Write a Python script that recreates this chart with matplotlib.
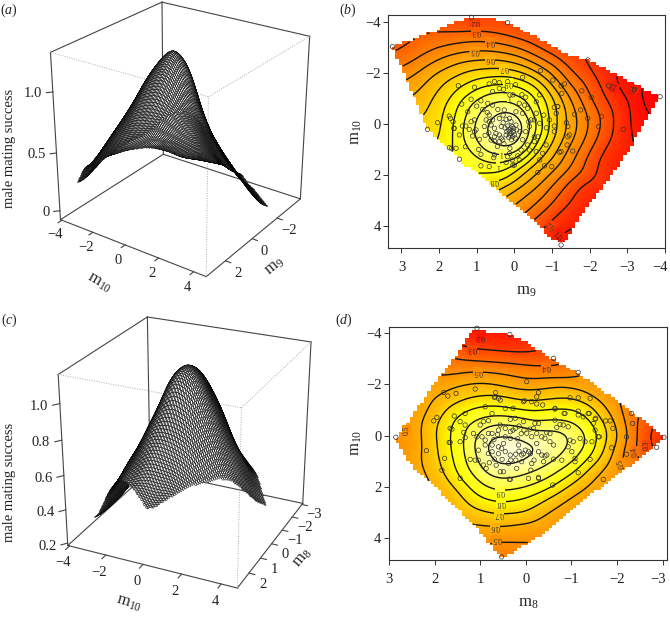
import numpy as np
import matplotlib
matplotlib.use("Agg")
import matplotlib.pyplot as plt
from matplotlib.colors import LinearSegmentedColormap, Normalize
from matplotlib.path import Path
from matplotlib.transforms import ScaledTranslation
from matplotlib.tri import Triangulation, LinearTriInterpolator
from mpl_toolkits.mplot3d.art3d import Poly3DCollection

plt.rcParams['font.family'] = 'Liberation Serif'
plt.rcParams['mathtext.fontset'] = 'custom'
plt.rcParams['mathtext.rm'] = 'Liberation Serif'
plt.rcParams['mathtext.it'] = 'Liberation Serif:italic'

FW, FH = 670, 618

# ---------- panel b data: m9, m10
hull_b = [(3.25,-3.03,.25),(2.13,-3.62,.27),(1.59,-4.01,.2),(1.15,-4.18,.15),(.65,-4.14,.17),(.16,-3.97,.2),(-.56,-3.42,.2),(-1.45,-2.70,.2),(-1.99,-2.51,.15),(-2.48,-2.09,.09),(-3.87,-1.07,.02),(-3.46,-.09,.05),(-3.06,1.02,.08),(-2.44,2.32,.12),(-1.81,3.50,.1),(-1.32,4.67,.03),(-1.00,4.48,.1),(-.20,3.37,.47),(.52,2.45,.72),(1.24,1.67,.88),(1.86,.89,.8),(2.31,.17,.7),(2.67,-1.07,.57),(2.98,-2.11,.4)]
contours_b = {
 0.05:[(-3.11,-1.62),(-3.28,-1.14),(-3.42,-.22)],
 0.1:[(-2.44,-2.05),(-2.72,-1.33),(-3.02,-.35),(-3.00,.50),(-2.57,1.67),(-2.00,2.84),(-1.42,4.02)],
 0.2:[(-1.82,-2.53),(-2.22,-1.79),(-2.62,-.48),(-2.62,.37),(-2.31,1.15),(-1.69,2.45),(-1.06,3.63),(-.80,4.02),(1.58,-3.97),(1.06,-4.03),(.67,-4.07)],
 0.3:[(3.10,-2.70),(2.57,-3.22),(1.86,-3.55),(1.02,-3.64),(.35,-3.48),(-.53,-3.03),(-1.42,-2.18),(-1.95,-1.20),(-2.31,-.29),(-2.26,.37),(-1.86,1.41),(-1.24,2.58),(-.51,3.76)],
 0.4:[(2.97,-2.18),(2.13,-2.96),(1.24,-3.22),(.67,-3.22),(-.18,-2.96),(-.98,-2.38),(-1.60,-1.33),(-1.95,-.29),(-1.95,.30),(-1.51,1.67),(-.89,2.71),(-.27,3.50)],
 0.5:[(2.80,-1.72),(2.13,-2.44),(1.06,-2.87),(.18,-2.77),(-.62,-2.31),(-1.24,-1.40),(-1.67,-.29),(-1.64,.37),(-1.24,1.54),(-.62,2.45),(0,3.13)],
 0.6:[(2.60,-1.16),(2.04,-2.05),(1.42,-2.44),(.67,-2.53),(-.18,-2.31),(-.98,-1.59),(-1.37,-.55),(-1.37,.30),(-.98,1.41),(-.35,2.26),(.22,2.84)],
 0.7:[(2.35,-.09),(2.22,-.94),(1.86,-1.66),(1.24,-2.09),(.27,-2.19),(-.44,-1.92),(-.98,-1.20),(-1.11,-.29),(-1.11,.37),(-.71,1.28),(-.18,1.93),(.44,2.58)],
 0.8:[(1.85,.82),(1.93,.04),(1.82,-.74),(1.46,-1.44),(.80,-1.83),(.09,-1.88),(-.53,-1.59),(-.89,-.81),(-.89,.37),(-.53,1.15),(0,1.80),(.62,2.26)],
 0.9:[(1.58,1.02),(1.60,-.09),(1.38,-1.00),(.89,-1.44),(.18,-1.59),(-.44,-1.27),(-.67,-.42),(-.62,.63),(-.27,1.41),(.27,1.93),(.98,1.87)],
 1.0:[(1.38,.63),(1.38,-.03),(1.20,-.81),(.71,-1.23),(.18,-1.27),(-.35,-.94),(-.58,-.16),(-.44,.76),(0,1.41),(.44,1.63),(.98,1.34)],
 1.1:[(1.11,.17),(.89,-.61),(.35,-1.00),(-.18,-.74),(-.44,-.09),(-.35,.63),(0,1.15),(.40,1.15),(.89,.89)],
 1.2:[(.80,.30),(.62,-.29),(.31,-.55),(-.09,-.48),(-.33,.10),(-.27,.82),(.09,1.15),(.53,.95)],
 1.36:[(.15,.2)],
}
levels_b = [0.05,0.1,0.2,0.3,0.4,0.5,0.6,0.7,0.8,0.9,1.0,1.1,1.2]
points_b = [(3.24,-3.03),(1.14,-4.18),(.18,-3.97),(-1.95,-2.51),(-.69,-2.09),(1.49,-1.50),(-2.50,-1.49),(-3.19,-1.36),(-3.87,-1.07),(-2.04,-1.04),(-1.79,-1.30),(-1.02,-1.72),(-1.24,-1.49),(-1.33,-1.57),(-1.26,-1.20),(-1.76,-.55),(-1.60,-.38),(-1.95,-.22),(-2.31,-.29),(-2.24,.10),(-2.89,.21),(2.04,-.05),(2.31,.21),(1.73,-.31),(1.70,-.22),(1.63,-.09),(1.61,.17),(1.40,-.78),(1.06,-1.44),(1.73,.93),(1.67,.95),(1.55,.95),(1.46,1.38),(.89,1.64),(.67,1.67),(0,1.61),(-.62,1.90),(-.80,1.64),(-.99,1.67),(-1.24,4.74),(-1.55,1.06),(-1.42,.10),(-1.38,-.05),(-1.42,.50),(-1.06,-.65),(-1.15,-.68),(-1.11,-.42),(-1.06,.08),(-1.46,.43),(-1.40,.82),(-1.20,1.11),(-1.24,1.08),
 (.67,-1.57),(.53,-1.66),(.40,-1.62),(.18,-1.66),(-.03,-1.54),(-.22,-1.83),(.58,-1.27),(.40,-1.40),(.29,-1.36),(.12,-1.14),(.04,-1.14),(-.67,-1.14),(-.58,-.87),(-.13,-.81),(-.27,-.74),(.89,-.91),(1.15,-.97),(.71,-.81),(.58,-.74),(.84,-.57),(1.24,-.48),(.44,-.57),(.27,-.55),(-.04,-.48),(-.22,-.42),(-.35,-.61),(-.44,-.16),(-.38,-.09),(.13,-.22),(.09,-.09),(.18,.08),(.06,.10),(.15,.23),(.09,.37),(.03,.30),(.13,.43),(0,.43),(-.04,.04),(-.06,.23),(.67,-.09),(.62,.04),(.58,-.16),(.75,-.16),(.80,.10),(.49,.37),(.62,.63),(.53,.67),(.40,.69),(.31,.63),(.22,.43),(.40,.43),(.53,.50),(.93,.60),(1.06,.30),(1.02,.23),(1.11,.47),(1.20,.21),(1.29,.08),(1.38,.08),(1.06,-.16),(1.15,-.09),(1.46,.43),(1.60,.17),(1.30,.89),(.89,1.19),(.53,1.21),(.55,1.32),(.18,1.28),(.22,1.51),(.04,1.61),(.06,1.41),(-.13,1.41),(-.09,1.25),(-.35,.82),(-.40,1.02),(-.53,.69),(-.62,.50),(-.53,.50),(-.58,1.08),(-.84,.82),(-.75,1.15),(-.67,1.41),(-.93,-.16),(-1.06,.30),(-1.15,-.68),(-.67,-.03),(-.53,-.16),(-.40,.10),(-.58,-.42),(-.18,1.02),(.13,1.15),(.35,.10),(.40,-.22),(.53,.17),(.67,-.35),
 (.10,.16),(.02,.17),(.12,.30),(.05,.50),(.15,.52),(-.02,.55),(.08,.62),(.20,.30),(.25,.15),(.30,-.05),(.22,-.18),(.35,.55),(.28,.78),(.12,.95),(.45,.88),(.68,.35),(.78,.45),(.30,-.35),(-.15,.30),(-.22,.62),(-.30,.30),(.72,-.45),(1.00,-.70),(-.20,-1.15),(-.78,-.35),(-.85,.15),(-.30,-1.05),(.95,1.00)]
labels_b = [(1.06,-3.98,"0.2",180),(1.02,-3.61,"0.3",180),(.64,-3.22,"0.4",180),(1.06,-2.87,"0.5",175),(.64,-2.53,"0.6",180),(.27,-2.19,"0.7",180),(.18,-1.62,"0.9",180),(.13,-1.04,"1",180),(.35,1.15,"1",180),(.44,1.63,"1",180),(.55,2.23,"0.8",180),(-.96,3.95,"0.2",140),(-1.20,4.28,"0.1",130),(-2.66,-1.44,"0.1",60),(-3.19,-1.33,"0.1",60)]

# ---------- panel d data: m8, m10
hull_d = [(1.07,-4.19,.15),(.71,-4.02,.2),(.38,-3.97,.2),(.01,-3.66,.22),(-.57,-3.02,.32),(-1.19,-2.37,.43),(-1.59,-1.91,.47),(-2.03,-1.33,.45),(-3.05,.04,.2),(-2.65,.69,.33),(-2.25,1.21,.45),(-1.66,1.99,.55),(-1.08,2.77,.52),(-.50,3.68,.5),(.09,4.33,.47),(.49,4.78,.42),(.67,4.46,.45),(1.04,3.68,.55),(1.40,3.03,.58),(1.99,1.99,.57),(2.42,1.34,.52),(2.79,.43,.47),(2.83,.10,.47),(2.50,-.74,.52),(2.06,-1.91,.52),(1.62,-2.89,.42),(1.18,-4.06,.2)]
contours_d = {
 0.2:[(1.26,-3.93),(.88,-3.89),(.31,-3.77)],
 0.3:[(1.44,-3.47),(1.11,-3.37),(.53,-3.28),(-.20,-3.15),(-.53,-3.08),(-2.65,-.35),(-2.67,.04),(-2.65,.62)],
 0.4:[(1.62,-2.91),(1.11,-2.91),(.53,-2.85),(-.20,-2.76),(-.93,-2.59),(-1.10,-2.50),(-2.32,-.87),(-2.43,.04),(-2.36,.69)],
 0.5:[(1.80,-2.24),(1.11,-2.50),(.53,-2.43),(-.06,-2.15),(-.64,-2.24),(-1.23,-2.30),(-1.92,-1.26),(-2.25,.04),(-2.08,.95),(-1.96,1.53),(-.13,3.84),(.89,4.03),(2.63,-.48),(2.63,.43)],
 0.6:[(2.31,1.01),(2.29,-.35),(2.02,-1.46),(1.62,-1.94),(1.04,-2.11),(.38,-1.85),(-.09,-1.78),(-.75,-1.98),(-1.41,-1.59),(-1.85,-.87),(-2.03,.04),(-1.85,.95),(-1.34,1.86),(-.90,2.44),(-.13,3.42),(.67,3.55),(1.15,3.42)],
 0.7:[(1.77,1.60),(1.26,2.77),(.60,3.06),(.01,3.00),(-.46,2.44),(-.97,1.92),(-1.48,1.08),(-1.74,.30),(-1.74,-.48),(-1.48,-1.20),(-.97,-1.52),(-.50,-1.39),(-.09,-1.33),(.56,-1.59),(1.22,-1.46),(1.69,-1.13),(1.95,-.48),(1.91,.62)],
 0.8:[(1.04,2.38),(.56,2.61),(-.09,2.38),(-.53,2.05),(-1.04,1.47),(-1.48,.75),(-1.59,.04),(-1.37,-.68),(-1.04,-1.07),(-.53,-1.07),(-.09,-.94),(.42,-1.07),(.85,-1.20),(1.33,-1.00),(1.62,-.61),(1.66,.30),(1.47,1.60)],
 0.9:[(.96,1.92),(.56,2.18),(.01,2.05),(-.46,1.73),(-1.04,1.08),(-1.34,.43),(-1.34,-.09),(-1.04,-.55),(-.61,-.61),(-.09,-.48),(.53,-.81),(1.04,-.68),(1.33,-.35),(1.37,.30),(1.29,1.21)],
 1.0:[(.56,1.70),(.09,1.53),(-.50,1.14),(-.90,.62),(-1.02,.10),(-.90,-.22),(-.57,-.33),(-.24,-.22),(.01,-.42),(.38,-.42),(.74,-.42),(1.02,-.16),(1.12,.30),(1.04,.95)],
 1.1:[(.93,.10),(.96,.43),(.78,1.08),(.53,1.31),(.12,1.14),(-.24,.75),(-.29,.49),(.05,.14),(.34,.01),(.53,-.22),(.74,-.12)],
 1.18:[(.45,.5)],
 1.07:[(-.6,.2)],
}
levels_d = [0.2,0.3,0.4,0.5,0.6,0.7,0.8,0.9,1.0,1.1]
points_d = [(1.07,-4.19),(.35,-3.95),(-.61,-3.02),(-1.15,-2.47),(-.02,-2.11),(1.11,-1.82),(1.80,-1.69),(1.53,-1.65),(1.71,-1.55),(1.95,-.72),(2.02,-.58),(2.18,.58),(1.66,-.29),(1.68,.26),(1.78,.88),(1.84,1.34),(1.44,1.66),(2.85,.06),(.53,4.72),(-2.32,-.87),(-2.34,-.48),(-2.21,.04),(-2.21,.72),(-1.70,1.70),(-1.15,1.44),(-.59,1.92),(-.28,1.66),(-.06,1.66),(.34,1.70),(-3.03,.06),(-2.87,.45),(.66,-1.68),(.69,-1.50),(.60,-1.46),(-.28,-1.68),(-.24,-1.52),(.03,-1.37),(-.13,-1.33),(-.24,-1.24),(-.37,-1.20),(-.64,-1.04),(-.84,-.87),(-.97,-1.48),(-1.15,-1.48),(-1.41,-1.46),(-1.15,-.96),(-1.26,-.74),(-1.39,-.87),(-1.53,-.68),(-1.75,-.58),(-1.85,-.58),(-1.91,-.29),(-1.88,.47),(-1.61,.04),(.74,-.87),
 (-1.48,-.48),(-1.52,-.64),(-1.37,-.87),(-1.15,-.81),(-.86,-.87),(-.64,-1.07),(-1.52,-.22),(-1.59,.04),(-1.45,.23),(-1.30,.23),(-1.19,.10),(-1.04,.23),(-.97,.17),(-.93,.43),(-1.01,.62),(-1.08,.88),(-1.08,1.01),(-1.41,.92),(-.79,.95),(-.61,.91),(-.39,1.01),(-.42,.79),(-.61,.36),(-.53,.23),(-.42,.10),(-.35,.04),(-.24,.30),(-.82,-.42),(-.75,-.44),(-.93,-.35),(-.68,-.33),(-.64,-.61),(-.20,-.48),(-.28,-.48),(-.53,-.09),(-.46,-.12),(-.24,-.09),(-.17,-.29),(-.13,.04),
 (.67,-1.52),(.56,-1.39),(.45,-1.07),(.28,-1.07),(.05,-1.33),(.89,-1.13),(1.33,-.87),(1.57,-.77),(1.44,-.55),(1.33,-.42),(1.62,-.26),(1.36,-.13),(1.33,.07),(1.44,.23),(1.66,.26),(1.15,-.09),(1.07,.04),(.82,-.59),(.93,-.55),(1.00,-.42),(.34,-.64),(.23,-.68),(.05,-.55),(-.09,-.26),(.04,-.22),(.23,-.29),(.56,-.42),(.60,-.22),(.34,-.16),(.45,-.29),(.74,-.09),(.82,-.09),(.96,.04),(.89,.17),(.89,.36),(.74,.36),(.74,.62),(.82,.69),(1.04,.56),(.69,.91),(1.22,.92),(1.11,.95),(1.04,.95),(.93,1.14),(.87,1.27),(.53,.49),(.60,.43),(.45,.04),(.49,.30),(.34,.10),(.16,.36),(.01,.56),(-.06,.62),(.34,.75),(.33,.95),(.09,.75),(.09,1.01),(.38,1.08),(.56,1.40),(.49,1.40),(.20,1.27),(-.13,1.08),(-.28,.62),(-.35,.75),(-.46,.75),(-.11,1.34),(-.28,1.62),(.36,1.69),
 (.15,.60),(.22,.72),(.05,.70),(.45,.62),(.60,.70),(.52,.92),(.22,.95),(.70,.15),(.62,-.05),(.18,.12),(.10,-.08),(.28,-.22),(.15,-.38),(-.02,-.10),(-.10,.70),(-.18,.95),(.80,1.05),(.65,1.15)]
labels_d = [(1.00,-3.86,"0.2",180),(1.18,-3.37,"0.3",180),(-.44,-2.67,"0.4",180),(1.04,-2.50,"0.5",180),(2.62,-.22,"0.5",90),(.56,2.18,"0.9",180),(.55,2.61,"0.8",180),(.58,3.06,"0.7",180),(.67,3.55,"0.6",180),(.64,4.03,"0.5",180),(-2.09,1.08,"0.5",110),(-2.39,.62,"0.4",100),(-2.65,.36,"0.3",90)]

# axis ranges and ticks
m9_lim, m10b_lim = (3.35,-4.0), (4.87,-4.27)
m8_lim, m10d_lim = (3.0,-3.09), (4.84,-4.25)
m9_ticks = [3,2,1,0,-1,-2,-3,-4]
m8_ticks = [3,2,1,0,-1,-2,-3]
m10_ticks = [-4,-2,0,2,4]
lim_a = dict(x=(-4.0,3.35), y=(-4.1,4.7), z=(-0.08,1.31))
lim_c = dict(x=(-3.09,2.95), y=(-4.1,4.8), z=(0.185,1.155))
zticks_a = [0,0.5,1.0]; zlabels_a = ['0','0.5','1.0']
zticks_c = [0.2,0.4,0.6,0.8,1.0]; zlabels_c = ['0.2','0.4','0.6','0.8','1.0']
ax9_ticks = [-2,0,2]
ax8_ticks = [-3,-2,-1,0,1,2]

# camera settings of the two perspective panels
cam_a = dict(e=25.841,a=35.1122,f=.6307,A=.9744,B=.9793,s=1637.201,tx=182.5776,ty=488.2095)
cam_c = dict(e=25.3975,a=24.9333,f=.6471,A=.9923,B=.9996,s=1664.2982,tx=189.4398,ty=174.3187)

cmap = LinearSegmentedColormap.from_list('heat', [(0,(1,0,0)),(0.25,(1,.45,0)),(0.48,(1,.75,0)),(0.64,(1,1,0)),(0.85,(1,1,.5)),(1,(1,1,.95))])

def gauss_blur(Z, W, sig):
    r = int(3*sig); k = np.exp(-0.5*(np.arange(-r,r+1)/sig)**2); k/=k.sum()
    def c(A):
        A = np.apply_along_axis(lambda v: np.convolve(v,k,'same'),0,A)
        return np.apply_along_axis(lambda v: np.convolve(v,k,'same'),1,A)
    return c(Z*W)/np.maximum(c(W),1e-9)

def build_field(hull, contours, xl, yl, n=240, f=3, sig=7):
    pts = [(x,y,z) for x,y,z in hull]
    for lev, line in contours.items():
        pts += [(x,y,lev) for x,y in line]
    pts = np.array(pts)
    tri = Triangulation(pts[:,0],pts[:,1])
    it = LinearTriInterpolator(tri,pts[:,2])
    xe = np.linspace(min(xl),max(xl),n+1); ye = np.linspace(min(yl),max(yl),n+1)
    xc = .5*(xe[1:]+xe[:-1]); yc=.5*(ye[1:]+ye[:-1])
    GX,GY = np.meshgrid(xc,yc)
    Zi = it(GX,GY)
    W = (~np.ma.getmaskarray(Zi)).astype(float)
    Z = gauss_blur(np.ma.filled(Zi,0.0),W,sig)
    m = n//f
    cx = xc[f//2::f][:m]; cy = yc[f//2::f][:m]
    CX,CY = np.meshgrid(cx,cy)
    hp = Path(np.array(hull)[:,:2])
    inside = hp.contains_points(np.c_[CX.ravel(),CY.ravel()]).reshape(CX.shape)
    fine = np.kron(inside,np.ones((f,f),bool))
    return xe,ye,xc,yc,Z,fine,hp

def panel2d(rect, hull, contours, levels, pts, labs, xl, yl, xt, xlabel, ylabel):
    ax = fig.add_axes([rect[0]/FW,1-rect[3]/FH,(rect[2]-rect[0])/FW,(rect[3]-rect[1])/FH])
    xe,ye,xc,yc,Z,fine,hp = build_field(hull,contours,xl,yl)
    norm = Normalize(min(h[2] for h in hull), max(contours))
    ZM = np.ma.masked_where(~fine,Z)
    ax.pcolormesh(xe,ye,ZM,cmap=cmap,norm=norm,rasterized=True,zorder=1)
    ax.contour(xc,yc,ZM,levels=levels,colors='#151515',linewidths=1.0,zorder=2)
    for x,y,t,r in labs:
        lev = float(t)
        ax.text(x,y,t,rotation=r,ha='center',va='center',fontsize=5.5,color='#333333',zorder=3,
                bbox=dict(fc=cmap(norm(lev)),ec='none',pad=0.3))
    p = np.array(pts)
    ax.scatter(p[:,0],p[:,1],s=10,facecolors='none',edgecolors='#333333',linewidths=.5,clip_on=False,zorder=4)
    ax.set_xlim(*xl); ax.set_ylim(*yl)
    ax.set_xticks(xt); ax.set_yticks(m10_ticks)
    ax.tick_params(labelsize=10.5,length=3.5,width=.7,color='#333333',labelcolor='#222222',pad=2)
    ax.tick_params(axis='x',pad=6)
    # keep the last negative tick label inside the figure, as in the reference
    last = ax.get_xticklabels()[-1]
    last.set_ha('right')
    last.set_transform(last.get_transform()+ScaledTranslation(3/100,0,fig.dpi_scale_trans))
    for s in ax.spines.values():
        s.set_linewidth(.8); s.set_color('#333333')
    ax.set_xlabel(xlabel,fontsize=12,color='#222222',labelpad=6)
    ax.set_ylabel(ylabel,fontsize=12,color='#222222',labelpad=1)
    return Z,xc,yc,hp

def panel3d(cam, lim, field, xt, yt, zt, zl):
    Z,xc,yc,hp = field
    x0,x1=lim['x'];y0,y1=lim['y'];z0,z1=lim['z']
    ax = fig.add_axes([0,0,1,1],projection='3d',computed_zorder=False)
    ax.set_xticks([]);ax.set_yticks([]);ax.set_zticks([])
    ax.set_xlim(x0,x1,view_margin=0);ax.set_ylim(y0,y1,view_margin=0);ax.set_zlim(z0,z1,view_margin=0)
    ax.set_autoscale_on(False)
    ax.view_init(cam['e'],cam['a']);ax.set_proj_type('persp',focal_length=cam['f'])
    ax.set_box_aspect((cam['A'],cam['B'],1))
    s=cam['s']
    X0,X1=-.095,.09
    l=cam['tx']+s*X0;b=cam['ty']+s*X0;w=s*(X1-X0)
    ax.set_position([l/FW,b/FH,w/FW,w/FH])
    ax.set_axis_off();ax.patch.set_alpha(0)
    solid=dict(color='#444444',lw=.8,zorder=1,clip_on=False)
    dot=dict(color='#aaaaaa',lw=.7,ls=(0,(1,1.5)),zorder=1,clip_on=False)
    def seg(a,b,**k): ax.plot([a[0],b[0]],[a[1],b[1]],[a[2],b[2]],**k)
    seg((x0,y0,z0),(x0,y0,z1),**solid);seg((x1,y0,z0),(x1,y0,z1),**solid);seg((x0,y1,z0),(x0,y1,z1),**solid)
    seg((x0,y0,z1),(x1,y0,z1),**solid);seg((x0,y0,z1),(x0,y1,z1),**solid)
    seg((x0,y0,z0),(x1,y0,z0),**solid);seg((x0,y0,z0),(x0,y1,z0),**solid);seg((x1,y0,z0),(x1,y1,z0),**solid);seg((x0,y1,z0),(x1,y1,z0),**solid)
    seg((x1,y1,z0),(x1,y1,z1),**dot);seg((x1,y0,z1),(x1,y1,z1),**dot);seg((x0,y1,z1),(x1,y1,z1),**dot)
    st=2
    XX=xc[::st];YY=yc[::st];GX,GY=np.meshgrid(XX,YY);ZZ=Z[::st,::st]
    ins=hp.contains_points(np.c_[GX.ravel(),GY.ravel()]).reshape(GX.shape)
    polys=[]
    for i in range(len(YY)-1):
        for j in range(len(XX)-1):
            if ins[i,j] and ins[i+1,j] and ins[i,j+1] and ins[i+1,j+1]:
                polys.append([(GX[i,j],GY[i,j],ZZ[i,j]),(GX[i,j+1],GY[i,j+1],ZZ[i,j+1]),(GX[i+1,j+1],GY[i+1,j+1],ZZ[i+1,j+1]),(GX[i+1,j],GY[i+1,j],ZZ[i+1,j])])
    pc=Poly3DCollection(polys,facecolors='white',edgecolors='#000000',linewidths=.35,zsort='average',zorder=2)
    ax.add_collection3d(pc,autolim=False)
    tk=dict(color='#444444',lw=.8,zorder=1,clip_on=False)
    tl=dict(fontsize=10.5,color='#222222',ha='center',va='center')
    for t in yt:
        seg((x1,t,z0),(x1+.25,t,z0),**tk)
        ax.text(x1+.45,t,z0-.09*(z1-z0)/1.39,str(t).replace('-','\u2212'),**tl)
    for t in xt:
        seg((t,y1,z0),(t,y1+.3,z0),**tk)
        ax.text(t,y1+.7,z0-.07*(z1-z0)/1.39,str(t).replace('-','\u2212'),**tl)
    for t,lab in zip(zt,zl):
        seg((x1,y0,t),(x1+.2,y0-.2,t),**tk)
        ax.text(x1+.33,y0-.33,t,lab,fontsize=10.5,color='#222222',ha='right',va='center')
    ax.set_xlim(x0,x1,view_margin=0);ax.set_ylim(y0,y1,view_margin=0);ax.set_zlim(z0,z1,view_margin=0)
    return ax

fig = plt.figure(figsize=(FW/100,FH/100),dpi=100,facecolor='white')
fb = panel2d((388.3,15,665,248.3),hull_b,contours_b,levels_b,points_b,labels_b,m9_lim,m10b_lim,m9_ticks,r'$\mathrm{m}_{9}$',r'$\mathrm{m}_{10}$')
fd = panel2d((389,326.7,666.7,560),hull_d,contours_d,levels_d,points_d,labels_d,m8_lim,m10d_lim,m8_ticks,r'$\mathrm{m}_{8}$',r'$\mathrm{m}_{10}$')
panel3d(cam_a,lim_a,fb,ax9_ticks,m10_ticks,zticks_a,zlabels_a)
panel3d(cam_c,lim_c,fd,ax8_ticks,m10_ticks,zticks_c,zlabels_c)

def ft(x,y,t,**k):
    fig.text(x/FW,1-y/FH,t,ha='center',va='center',**k)
ft(10,148,'male mating success',rotation=90,fontsize=10.5,color='#222222')
ft(10,482,'male mating success',rotation=90,fontsize=10.5,color='#222222')
ft(99,283,r'$\mathrm{m}_{10}$',rotation=-30,fontsize=12,color='#222222')
ft(275,266,r'$\mathrm{m}_{9}$',rotation=40,fontsize=12,color='#222222')
ft(129,603,r'$\mathrm{m}_{10}$',rotation=-17,fontsize=12,color='#222222')
ft(302,558,r'$\mathrm{m}_{8}$',rotation=50,fontsize=12,color='#222222')
for x,y,t in [(9,10,'a'),(348,10,'b'),(9,320,'c'),(344,320,'d')]:
    ft(x,y,r'$(\mathit{%s})$'%t,fontsize=10,color='#222222')

fig.savefig('out.png',dpi=100)
